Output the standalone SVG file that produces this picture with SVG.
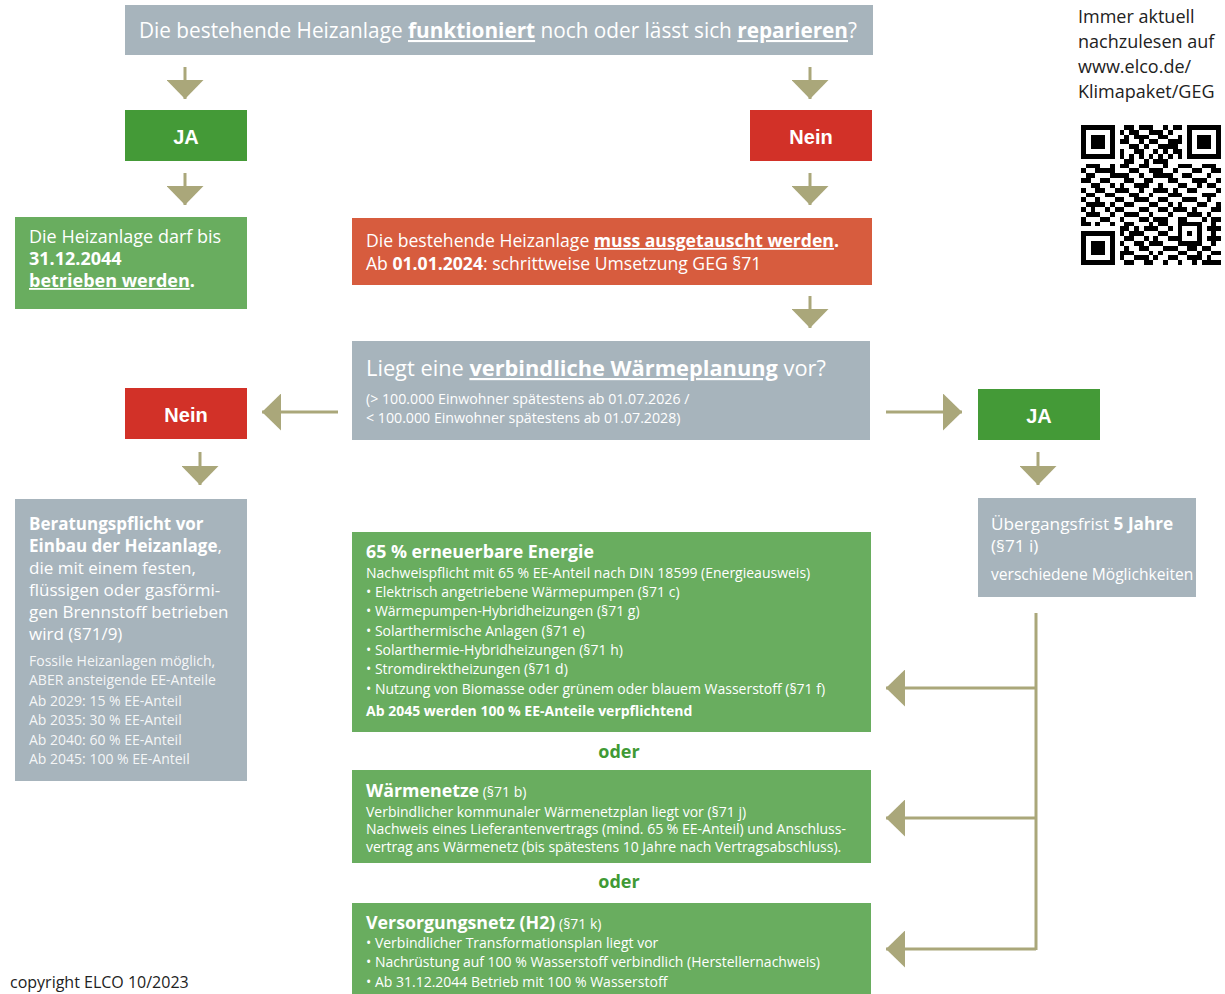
<svg xmlns="http://www.w3.org/2000/svg" width="1225" height="994" viewBox="0 0 1225 994">
<defs>
<style>
.t{font-family:"Open Sans","Noto Sans","DejaVu Sans",sans-serif;fill:#fff}
.h{font-family:"Liberation Sans",Arial,sans-serif;font-weight:700;fill:#fff;font-size:20px;text-anchor:middle}
.b{font-weight:700}
.u{text-decoration:underline}
.grey{fill:#a7b4bc}
.dg{fill:#449a37}
.lg{fill:#69ad5f}
.red{fill:#d23128}
.org{fill:#d75c3e}
.con{stroke:#aaa77a;stroke-width:3;fill:none}
.arr{marker-end:url(#ah)}
.oder{font-family:"Open Sans","Noto Sans",sans-serif;font-weight:700;font-size:18px;fill:#3f9a35;text-anchor:middle}
.dark{font-family:"Open Sans","Noto Sans",sans-serif;fill:#222}
</style>
<marker id="ah" markerUnits="userSpaceOnUse" viewBox="0 0 19 37" refX="19" refY="18.5" markerWidth="19" markerHeight="37" orient="auto">
<path d="M0 0L19 18.5L0 37z" fill="#aaa77a"/>
</marker>
</defs>
<rect width="1225" height="994" fill="#fff"/>

<g id="q1">
<rect class="grey" x="125" y="5" width="748" height="50"/>
<text class="t" x="139" y="38" font-size="21" textLength="718" lengthAdjust="spacingAndGlyphs">Die bestehende Heizanlage <tspan class="b u">funktioniert</tspan> noch oder lässt sich <tspan class="b u">reparieren</tspan>?</text>
</g>

<g id="ja1">
<rect class="dg" x="125" y="110" width="122" height="51"/>
<text class="h" x="186" y="144">JA</text>
</g>
<g id="nein1">
<rect class="red" x="750" y="110" width="122" height="51"/>
<text class="h" x="811" y="144">Nein</text>
</g>

<g id="bis2044">
<rect class="lg" x="15" y="217" width="232" height="92"/>
<text class="t" font-size="18"><tspan x="29" y="243">Die Heizanlage darf bis</tspan><tspan x="29" y="265" class="b">31.12.2044</tspan><tspan x="29" y="287" class="b"><tspan class="u">betrieben werden</tspan>.</tspan></text>
</g>

<g id="austausch">
<rect class="org" x="352" y="218" width="520" height="67"/>
<text class="t" font-size="17.6"><tspan x="366" y="247">Die bestehende Heizanlage <tspan class="b u">muss ausgetauscht werden</tspan><tspan class="b">.</tspan></tspan><tspan x="366" y="270">Ab <tspan class="b">01.01.2024</tspan>: schrittweise Umsetzung GEG §71</tspan></text>
</g>

<g id="waermeplanung">
<rect class="grey" x="352" y="341" width="518" height="99"/>
<text class="t" x="366" y="376" font-size="21.8">Liegt eine <tspan class="b u">verbindliche Wärmeplanung</tspan> vor?</text>
<text class="t" font-size="14.2"><tspan x="366" y="404">(&gt; 100.000 Einwohner spätestens ab 01.07.2026 /</tspan><tspan x="366" y="423">&lt; 100.000 Einwohner spätestens ab 01.07.2028)</tspan></text>
</g>

<g id="nein2">
<rect class="red" x="125" y="388" width="122" height="51"/>
<text class="h" x="186" y="422">Nein</text>
</g>
<g id="ja2">
<rect class="dg" x="978" y="389" width="122" height="51"/>
<text class="h" x="1039" y="423">JA</text>
</g>

<g id="beratung">
<rect class="grey" x="15" y="499" width="232" height="282"/>
<text class="t" font-size="17"><tspan x="29" y="530" class="b">Beratungspflicht vor</tspan><tspan x="29" y="552"><tspan class="b">Einbau der Heizanlage</tspan>,</tspan><tspan x="29" y="574">die mit einem festen,</tspan><tspan x="29" y="596">flüssigen oder gasförmi-</tspan><tspan x="29" y="618">gen Brennstoff betrieben</tspan><tspan x="29" y="640">wird (§71/9)</tspan></text>
<text class="t" font-size="14" fill-opacity="0.9"><tspan x="29" y="666">Fossile Heizanlagen möglich,</tspan><tspan x="29" y="685">ABER ansteigende EE-Anteile</tspan><tspan x="29" y="706">Ab 2029: 15 % EE-Anteil</tspan><tspan x="29" y="725">Ab 2035: 30 % EE-Anteil</tspan><tspan x="29" y="745">Ab 2040: 60 % EE-Anteil</tspan><tspan x="29" y="764">Ab 2045: 100 % EE-Anteil</tspan></text>
</g>

<g id="uebergang">
<rect class="grey" x="978" y="498" width="218" height="99"/>
<text class="t" font-size="17.2"><tspan x="991" y="530">Übergangsfrist <tspan class="b">5 Jahre</tspan></tspan><tspan x="991" y="552">(§71 i)</tspan></text>
<text class="t" x="991" y="580" font-size="15.6">verschiedene Möglichkeiten</text>
</g>

<g id="ee65">
<rect class="lg" x="352" y="532" width="519" height="200"/>
<text class="t b" x="366" y="558" font-size="17.8">65 % erneuerbare Energie</text>
<text class="t" font-size="14"><tspan x="366" y="578">Nachweispflicht mit 65 % EE-Anteil nach DIN 18599 (Energieausweis)</tspan><tspan x="366" y="597">• Elektrisch angetriebene Wärmepumpen (§71 c)</tspan><tspan x="366" y="616">• Wärmepumpen-Hybridheizungen (§71 g)</tspan><tspan x="366" y="636">• Solarthermische Anlagen (§71 e)</tspan><tspan x="366" y="655">• Solarthermie-Hybridheizungen (§71 h)</tspan><tspan x="366" y="674">• Stromdirektheizungen (§71 d)</tspan><tspan x="366" y="694">• Nutzung von Biomasse oder grünem oder blauem Wasserstoff (§71 f)</tspan><tspan x="366" y="716" class="b">Ab 2045 werden 100 % EE-Anteile verpflichtend</tspan></text>
</g>

<text class="oder" x="619" y="758">oder</text>

<g id="waermenetze">
<rect class="lg" x="352" y="770" width="519" height="93"/>
<text class="t" x="366" y="797" font-size="17.8"><tspan class="b">Wärmenetze</tspan><tspan font-size="14"> (§71 b)</tspan></text>
<text class="t" font-size="14"><tspan x="366" y="817">Verbindlicher kommunaler Wärmenetzplan liegt vor (§71 j)</tspan><tspan x="366" y="834">Nachweis eines Lieferantenvertrags (mind. 65 % EE-Anteil) und Anschluss-</tspan><tspan x="366" y="852">vertrag ans Wärmenetz (bis spätestens 10 Jahre nach Vertragsabschluss).</tspan></text>
</g>

<text class="oder" x="619" y="888">oder</text>

<g id="h2netz">
<rect class="lg" x="352" y="903" width="519" height="91"/>
<text class="t" x="366" y="929" font-size="17.8"><tspan class="b">Versorgungsnetz (H2)</tspan><tspan font-size="14"> (§71 k)</tspan></text>
<text class="t" font-size="14"><tspan x="366" y="948">• Verbindlicher Transformationsplan liegt vor</tspan><tspan x="366" y="967">• Nachrüstung auf 100 % Wasserstoff verbindlich (Herstellernachweis)</tspan><tspan x="366" y="987">• Ab 31.12.2044 Betrieb mit 100 % Wasserstoff</tspan></text>
</g>

<g id="hinweis">
<text class="dark" font-size="18"><tspan x="1078" y="23">Immer aktuell</tspan><tspan x="1078" y="48">nachzulesen auf</tspan><tspan x="1078" y="73">www.elco.de/</tspan><tspan x="1078" y="98">Klimapaket/GEG</tspan></text>
</g>

<g id="qr" transform="translate(1081,125) scale(4.83)" shape-rendering="crispEdges">
<path fill="#000" fill-rule="evenodd" d="M0 0h7v7h-7zM1 1v5h5v-5zM2 2h3v3h-3zM22 0h7v7h-7zM23 1v5h5v-5zM24 2h3v3h-3zM0 22h7v7h-7zM1 23v5h5v-5zM2 24h3v3h-3zM20 20h5v5h-5zM21 21v3h3v-3zM22 22h1v1h-1z"/>
<path stroke="#000" stroke-width="1" fill="none" d="M9 0.5h2M12 0.5h3M17 0.5h1M19 0.5h2M8 1.5h1M10 1.5h2M14 1.5h3M18 1.5h1M9 2.5h1M11 2.5h3M16 2.5h2M20 2.5h1M8 3.5h2M12 3.5h1M14 3.5h2M18 3.5h3M10 4.5h2M13 4.5h1M16 4.5h4M8 5.5h1M11 5.5h2M15 5.5h1M17 5.5h1M19 5.5h2M8 6.5h1M10 6.5h1M12 6.5h1M14 6.5h1M16 6.5h1M18 6.5h1M20 6.5h1M9 7.5h2M13 7.5h1M15 7.5h3M1 8.5h3M6 8.5h1M8 8.5h2M12 8.5h2M17 8.5h1M20 8.5h3M25 8.5h3M0 9.5h1M3 9.5h4M10 9.5h2M14 9.5h3M19 9.5h1M23 9.5h2M27 9.5h2M1 10.5h2M6 10.5h4M12 10.5h1M15 10.5h4M21 10.5h2M26 10.5h1M0 11.5h2M4 11.5h2M9 11.5h2M13 11.5h2M18 11.5h2M23 11.5h3M28 11.5h1M2 12.5h2M6 12.5h1M8 12.5h1M11 12.5h3M16 12.5h1M20 12.5h2M24 12.5h1M26 12.5h2M0 13.5h1M3 13.5h2M7 13.5h3M12 13.5h1M15 13.5h3M19 13.5h1M22 13.5h2M28 13.5h1M1 14.5h2M5 14.5h2M10 14.5h2M14 14.5h1M18 14.5h3M25 14.5h3M0 15.5h1M3 15.5h1M7 15.5h2M11 15.5h3M16 15.5h2M21 15.5h3M26 15.5h1M1 16.5h4M6 16.5h1M9 16.5h2M14 16.5h2M18 16.5h1M20 16.5h1M24 16.5h2M28 16.5h1M0 17.5h1M2 17.5h1M5 17.5h1M7 17.5h2M12 17.5h2M16 17.5h2M19 17.5h3M23 17.5h1M27 17.5h2M1 18.5h3M6 18.5h1M9 18.5h3M14 18.5h1M18 18.5h1M22 18.5h3M26 18.5h1M0 19.5h1M4 19.5h2M8 19.5h1M12 19.5h2M15 19.5h3M20 19.5h2M25 19.5h1M27 19.5h2M0 20.5h2M3 20.5h1M6 20.5h1M9 20.5h2M14 20.5h1M16 20.5h2M27 20.5h1M8 21.5h2M11 21.5h1M13 21.5h3M18 21.5h1M26 21.5h3M8 22.5h1M10 22.5h3M16 22.5h2M27 22.5h1M9 23.5h2M13 23.5h1M15 23.5h1M18 23.5h2M26 23.5h3M8 24.5h1M11 24.5h2M14 24.5h3M27 24.5h1M9 25.5h1M12 25.5h2M17 25.5h3M22 25.5h2M25 25.5h2M8 26.5h3M14 26.5h1M16 26.5h1M20 26.5h2M24 26.5h1M27 26.5h2M8 27.5h1M11 27.5h3M15 27.5h1M18 27.5h2M22 27.5h3M26 27.5h1M9 28.5h2M13 28.5h2M17 28.5h1M20 28.5h1M23 28.5h1M25 28.5h4"/>
</g>

<text class="dark" x="10" y="988" font-size="16">copyright ELCO 10/2023</text>

<g id="connectors">
<path class="con arr" d="M185 67V99"/>
<path class="con arr" d="M810 67V99"/>
<path class="con arr" d="M185 173V205"/>
<path class="con arr" d="M810 173V205"/>
<path class="con arr" d="M810 296V328"/>
<path class="con arr" d="M338 412H262"/>
<path class="con arr" d="M886 412H962"/>
<path class="con arr" d="M200 452V485"/>
<path class="con arr" d="M1038 452V485"/>
<path class="con" d="M1036 613V950"/>
<path class="con arr" d="M1036 688H886"/>
<path class="con arr" d="M1036 818H886"/>
<path class="con arr" d="M1036 949H886"/>
</g>
</svg>
